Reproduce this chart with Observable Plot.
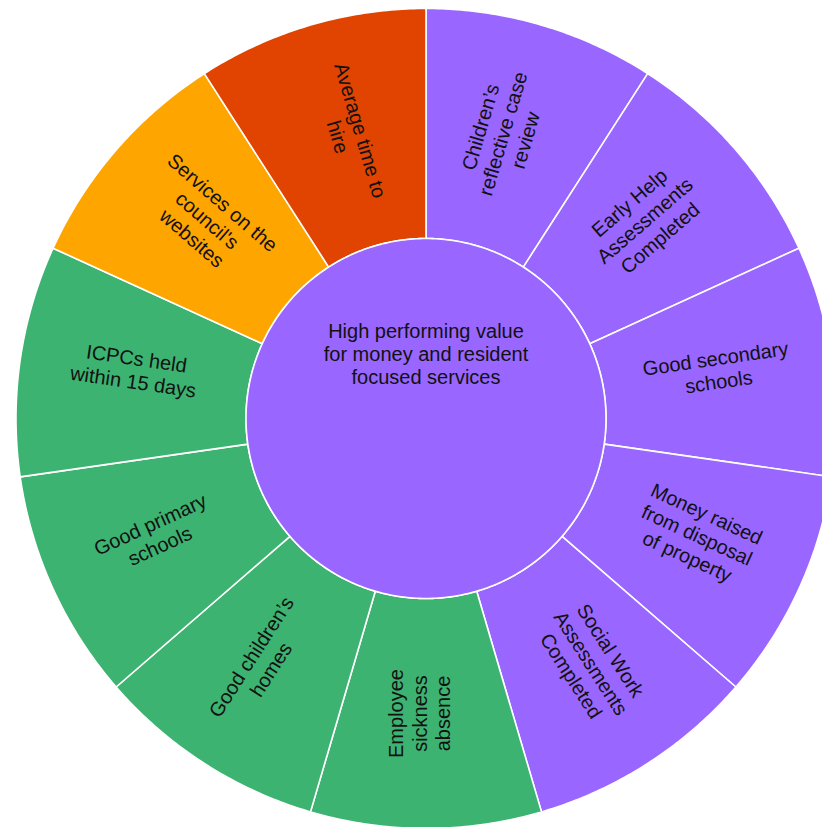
<!DOCTYPE html>
<html><head><meta charset="utf-8">
<script src="https://cdn.jsdelivr.net/npm/d3@7"></script>
<script src="https://cdn.jsdelivr.net/npm/@observablehq/plot@0.6"></script>
<style>html,body{margin:0;padding:0;background:#fff;overflow:hidden}</style>
</head><body><div id="chart"></div>
<script>
// ---- data ----
const centerLabel = "High performing value\nfor money and resident\nfocused services";
const segmentLabels = [
  "Children’s\nreflective case\nreview",
  "Early Help\nAssessments\nCompleted",
  "Good secondary\nschools",
  "Money raised\nfrom disposal\nof property",
  "Social Work\nAssessments\nCompleted",
  "Employee\nsickness\nabsence",
  "Good children’s\nhomes",
  "Good primary\nschools",
  "ICPCs held\nwithin 15 days",
  "Services on the\ncouncil's\nwebsites",
  "Average time to\nhire"
];
const segmentGroups = ["group1","group1","group1","group1","group1","group2","group2","group2","group2","group3","group4"];
const segmentValues = [1,1,1,1,1,1,1,1,1,1,1];
const centerGroup = "group1";
const groupDomain = ["group1","group2","group3","group4"];
const groupColors = ["#9966ff","#3cb371","#ffa500","#e04400"];

// ---- geometry (data units) ----
const R_OUT = 410, R_IN = 180, R_LABEL = 295, LABEL_SHIFT = 7;
const arcs = d3.pie().sort(null).value(d => d)(segmentValues);

const polyRows = [];
arcs.forEach((a, i) => {
  const n = 60;
  for (let k = 0; k <= n; k++) {
    const t = a.startAngle + (a.endAngle - a.startAngle) * k / n;
    polyRows.push({id: i, group: segmentGroups[i], x: R_OUT * Math.sin(t), y: R_OUT * Math.cos(t)});
  }
  for (let k = n; k >= 0; k--) {
    const t = a.startAngle + (a.endAngle - a.startAngle) * k / n;
    polyRows.push({id: i, group: segmentGroups[i], x: R_IN * Math.sin(t), y: R_IN * Math.cos(t)});
  }
});
const circleRows = d3.range(0, 361).map(k => {
  const t = k * Math.PI / 180;
  return {x: R_IN * Math.sin(t), y: R_IN * Math.cos(t), group: centerGroup};
});
const labelRows = arcs.map((a, i) => {
  const m = (a.startAngle + a.endAngle) / 2;
  const deg = m * 180 / Math.PI;
  const rot = deg < 180 ? deg - 90 : deg - 270;
  const rr = rot * Math.PI / 180;
  return {
    text: segmentLabels[i],
    x: R_LABEL * Math.sin(m) + LABEL_SHIFT * Math.sin(rr),
    y: R_LABEL * Math.cos(m) + LABEL_SHIFT * Math.cos(rr),
    rotate: rot
  };
});

const font = "'Liberation Sans', Arial, Helvetica, sans-serif";
const chart = Plot.plot({
  width: 822,
  height: 827,
  margin: 0,
  x: {domain: [-R_OUT, R_OUT], range: [15.5, 835.5], axis: null},
  y: {domain: [-R_OUT, R_OUT], range: [828, 8], axis: null},
  color: {type: "ordinal", domain: groupDomain, range: groupColors},
  style: {fontFamily: font, background: "white", overflow: "hidden"},
  marks: [
    Plot.line(polyRows, {x: "x", y: "y", z: "id", fill: "group", stroke: "white", strokeWidth: 1.6, curve: "linear-closed"}),
    Plot.line(circleRows, {x: "x", y: "y", fill: "group", stroke: "white", strokeWidth: 1.6, curve: "linear-closed"}),
    Plot.text(labelRows, {x: "x", y: "y", text: "text", rotate: "rotate", fontSize: 20, lineHeight: 1.17, fill: "#111", fontFamily: font}),
    Plot.text([centerLabel], {x: [0], y: [0], dy: -65, text: d => d, fontSize: 20, lineHeight: 1.17, fill: "#111", fontFamily: font})
  ]
});
document.getElementById("chart").appendChild(chart);
</script>
</body></html>
